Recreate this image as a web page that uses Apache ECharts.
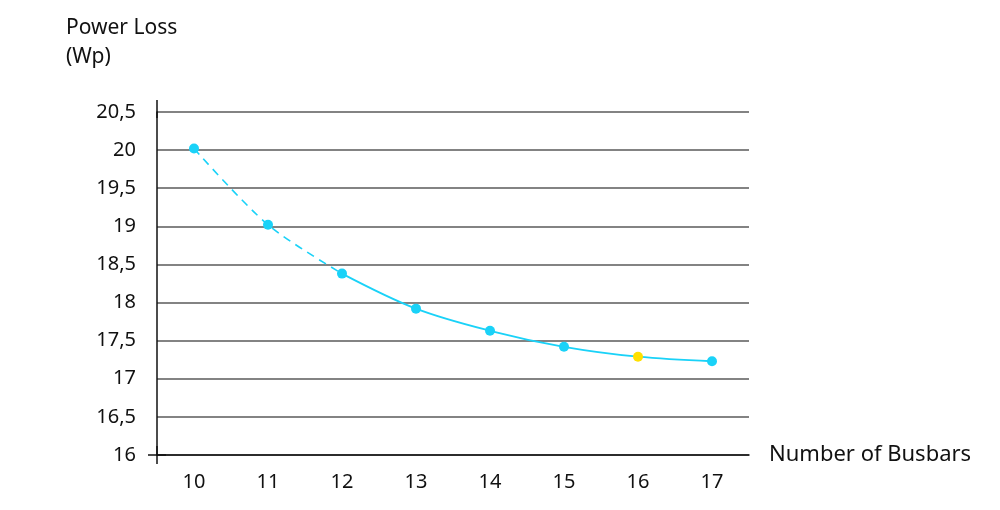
<!DOCTYPE html>
<html>
<head>
<meta charset="utf-8">
<script src="https://cdn.jsdelivr.net/npm/echarts@6/dist/echarts.min.js"></script>
<style>
  html, body { margin: 0; padding: 0; background: #fff; }
  #main { width: 1000px; height: 510px; }
</style>
</head>
<body>
<div id="main"></div>
<script>
// data
var busbars = ['10', '11', '12', '13', '14', '15', '16', '17']
var powerLoss = [20.02, 19.02, 18.38, 17.92, 17.63, 17.42, 17.29, 17.23]
var dashedUntil = 2   // the first part of the curve is dashed (10 -> 12)
var highlightIndex = 6 // the yellow point (16 busbars)

var yTicks = ['16', '16,5', '17', '17,5', '18', '18,5', '19', '19,5', '20', '20,5']

var cyan = '#1AD2F8'
var yellow = '#FFE000'
var font = 'Noto Sans'

function dashedPart(arr) {
  return arr.map((v, i) => i <= dashedUntil ? v : '-')
}
function solidPart(arr) {
  return arr.map((v, i) => i >= dashedUntil ? v : '-')
}
function pointData(arr) {
  return arr.map((v, i) => {
    if (i === highlightIndex) return { value: v, itemStyle: { color: yellow } }
    return v
  })
}

function draw() {
  var myChart = echarts.init(document.getElementById('main'))
  var option = {
    animation: false,
    grid: {
      left: 157,
      right: 251,
      top: 112,
      bottom: 55
    },
    xAxis: {
      type: 'category',
      data: busbars,
      boundaryGap: true,
      name: 'Number of Busbars',
      nameLocation: 'end',
      nameGap: 20,
      nameTextStyle: { fontFamily: font, fontSize: 22, color: '#111' },
      axisLine: {
        lineStyle: { color: '#111', width: 1.5 },
        symbol: ['rect', 'none'],
        symbolSize: [1.5, 18],
        symbolOffset: [0, 0]
      },
      axisTick: { show: false },
      axisLabel: { fontFamily: font, fontSize: 20, color: '#111', margin: 17 }
    },
    yAxis: {
      type: 'value',
      min: 16,
      max: 20.5,
      interval: 0.5,
      name: 'Power Loss\n(Wp)',
      nameLocation: 'end',
      nameGap: 40,
      nameTextStyle: {
        fontFamily: font, fontSize: 21, color: '#111',
        align: 'left', lineHeight: 29, padding: [0, 0, 0, -91]
      },
      axisLine: {
        show: true,
        lineStyle: { color: '#111', width: 1.5 },
        symbol: ['rect', 'rect'],
        symbolSize: [1.5, 18],
        symbolOffset: [0, 3]
      },
      axisTick: { show: false },
      axisLabel: {
        fontFamily: font, fontSize: 20, color: '#111', margin: 21,
        formatter: (v) => yTicks[Math.round((v - 16) / 0.5)]
      },
      splitLine: { lineStyle: { color: '#5a5a5a', width: 1.5 } }
    },
    series: [
      {
        type: 'line',
        data: dashedPart(powerLoss),
        smooth: 0.3,
        symbol: 'none',
        lineStyle: { color: cyan, width: 1.6, type: [8, 6] },
        z: 2
      },
      {
        type: 'line',
        data: solidPart(powerLoss),
        smooth: 0.35,
        symbol: 'none',
        lineStyle: { color: cyan, width: 1.8 },
        z: 2
      },
      {
        type: 'line',
        data: pointData(powerLoss),
        symbol: 'circle',
        symbolSize: 10,
        showSymbol: true,
        itemStyle: { color: cyan },
        lineStyle: { opacity: 0 },
        z: 3
      }
    ]
  }
  myChart.setOption(option)
}

window.onload = draw
</script>
</body>
</html>
